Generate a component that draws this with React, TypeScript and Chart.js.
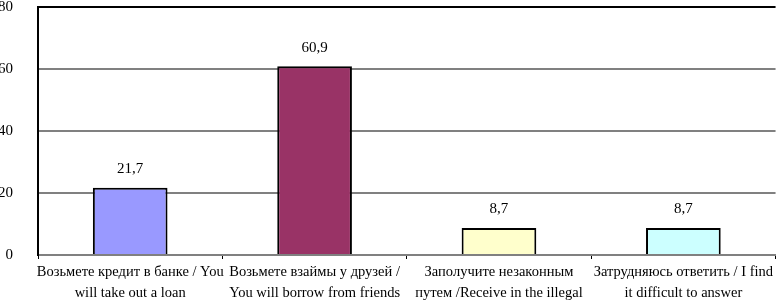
import React, { useEffect, useRef } from "react";
import { Chart, registerables } from "chart.js";

Chart.register(...registerables);

const categories: string[][] = [
  ["Возьмете кредит в банке / You", "will take out a loan"],
  ["Возьмете взаймы у друзей /", "You will borrow from friends"],
  ["Заполучите незаконным", "путем /Receive in the illegal"],
  ["Затрудняюсь ответить / I find", "it difficult to answer"],
];
const values: number[] = [21.7, 60.9, 8.7, 8.7];
const valueLabels: string[] = ["21,7", "60,9", "8,7", "8,7"];
const barColors: string[] = ["#9999FF", "#993366", "#FFFFCC", "#CCFFFF"];
const yTicks: number[] = [0, 20, 40, 60, 80];

const FONT = "'Liberation Serif', 'Times New Roman', serif";

const valueLabelPlugin = {
  id: "valueLabels",
  afterDatasetsDraw(chart: any) {
    const ctx = chart.ctx;
    const meta = chart.getDatasetMeta(0);
    ctx.save();
    ctx.font = `15px ${FONT}`;
    ctx.fillStyle = "#000";
    ctx.textAlign = "center";
    ctx.textBaseline = "bottom";
    meta.data.forEach((bar: any, i: number) => {
      ctx.fillText(valueLabels[i], bar.x, bar.y - 11);
    });
    ctx.restore();
  },
};

export default function App() {
  const ref = useRef<HTMLCanvasElement | null>(null);
  useEffect(() => {
    document.body.style.margin = "0";
    const chart = new Chart(ref.current!, {
      type: "bar",
      data: {
        labels: categories,
        datasets: [
          {
            data: values,
            backgroundColor: barColors,
            borderColor: "#000",
            borderWidth: 2,
            barPercentage: 0.405,
            categoryPercentage: 1,
          },
        ],
      },
      options: {
        animation: false,
        responsive: false,
        layout: { padding: { top: 7, right: 0, left: 0, bottom: 0 } },
        plugins: { legend: { display: false }, tooltip: { enabled: false } },
        scales: {
          x: {
            offset: true,
            grid: {
              offset: true,
              drawOnChartArea: false,
              drawTicks: true,
              tickLength: 4,
              color: "#000",
              lineWidth: 1,
            },
            border: { color: "#808080", width: 2 },
            ticks: {
              autoSkip: false,
              maxRotation: 0,
              minRotation: 0,
              padding: 3,
              color: "#000",
              font: { family: FONT, size: 14.5, lineHeight: 1.45 },
            },
            afterFit(scale: any) {
              scale.height = 46;
            },
          },
          y: {
            min: 0,
            max: 80,
            afterBuildTicks(scale: any) {
              scale.ticks = yTicks.map((v) => ({ value: v }));
            },
            grid: {
              drawTicks: false,
              color: (c: any) => (c.tick && c.tick.value === 80 ? "#000" : "#808080"),
              lineWidth: 2,
            },
            border: { color: "#000", width: 2 },
            ticks: {
              padding: 25,
              color: "#000",
              font: { family: FONT, size: 15 },
            },
            afterFit(scale: any) {
              scale.width = 38;
              scale.paddingTop = 0;
              scale.paddingBottom = 0;
            },
          },
        },
      },
      plugins: [valueLabelPlugin],
    });
    return () => chart.destroy();
  }, []);
  return <canvas ref={ref} width={776} height={301} />;
}
